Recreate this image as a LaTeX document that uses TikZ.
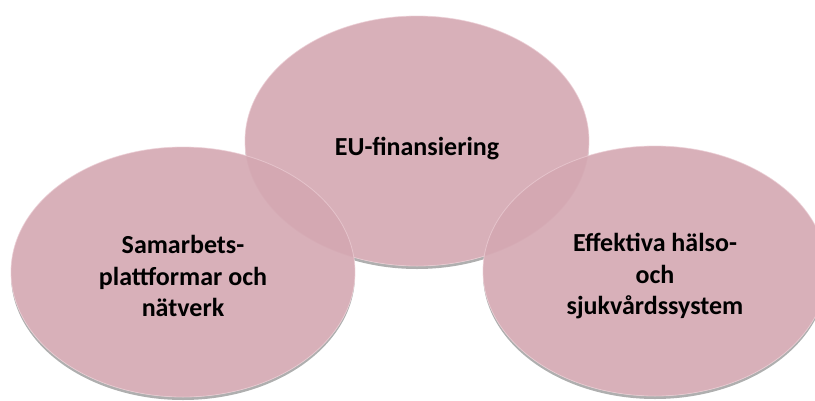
\documentclass[tikz,border=0pt]{standalone}
\usepackage{fontspec}
\setmainfont{Carlito}
\usetikzlibrary{shapes.geometric}

\definecolor{rosa}{RGB}{212,168,178}
\definecolor{rosarand}{RGB}{236,206,213}
\definecolor{schatten}{RGB}{175,175,175}

\tikzset{
    blase/.style={ellipse, fill=rosa, fill opacity=0.9, text opacity=1,
        draw=rosarand, draw opacity=0.7, line width=0.8pt,
        minimum width=344pt, minimum height=250pt, inner sep=0pt,
        align=center, font=\fontsize{26}{31.5}\selectfont\bfseries}
}

\begin{document}
\begin{tikzpicture}[x=1pt, y=-1pt]
        \clip (0,0) rectangle (815,400);

        %Mittelpunkte
        \coordinate (mitte) at (417,141);
        \coordinate (links) at (183,272);
        \coordinate (rechts) at (655,271);

        %Schatten und Untergrund
        \foreach \p in {mitte,links,rechts}
            \fill[schatten] ([yshift=-3pt]\p) ellipse (172 and 125);
        \foreach \p in {mitte,links,rechts}
            \fill[white] (\p) ellipse (172 and 125);

        %Ellipsen
        \node[blase] (finans) at (mitte) {\raisebox{-8pt}[\height][\depth]{EU-finansiering}};
        \node[blase] (samarbete) at (links) {\raisebox{-7pt}[\height][\depth]{\begin{tabular}{@{}c@{}}Samarbets-\\plattformar och\\nätverk\end{tabular}}};
        \node[blase] (halsa) at (rechts) {\raisebox{-6pt}[\height][\depth]{\begin{tabular}{@{}c@{}}Effektiva hälso-\\och\\sjukvårdssystem\end{tabular}}};
\end{tikzpicture}
\end{document}
